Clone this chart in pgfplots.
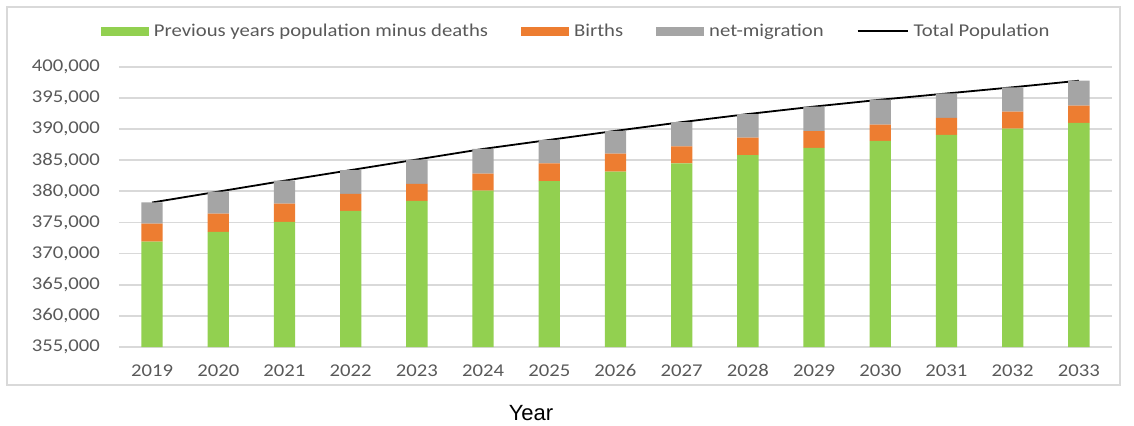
\documentclass[border=0pt]{standalone}
\usepackage{pgfplots}
\usepackage{pgfplotstable}
\pgfplotsset{compat=1.18}
\usepackage{fontspec}
\setmainfont{Carlito}[FakeStretch=1.15]
\newfontfamily\arialfont{Liberation Sans}
\definecolor{cgreen}{HTML}{92D050}
\definecolor{corange}{HTML}{ED7D31}
\definecolor{cgray}{HTML}{A5A5A5}
\definecolor{cgrid}{HTML}{D9D9D9}
\definecolor{ctext}{HTML}{595959}
\pgfplotstableread{
x year green births mig total
0 2019 371900 2900 3400 378200
1 2020 373500 2900 3550 379950
2 2021 375100 2900 3700 381700
3 2022 376850 2750 3800 383400
4 2023 378450 2750 3900 385100
5 2024 380100 2750 3950 386800
6 2025 381650 2850 3750 388250
7 2026 383150 2900 3650 389700
8 2027 384500 2700 3900 391100
9 2028 385800 2800 3800 392400
10 2029 386950 2700 3950 393600
11 2030 388100 2600 4000 394700
12 2031 389050 2750 3900 395700
13 2032 390050 2750 3900 396700
14 2033 391000 2750 4000 397750
}\datatable
\begin{document}
\begin{tikzpicture}
\begin{axis}[
  scale only axis,
  width=496.5pt, height=140.15pt,
  ybar stacked,
  bar width=10.65pt,
  xmin=-0.5, xmax=14.5,
  ymin=355000, ymax=400000,
  ytick={355000,360000,...,400000},
  yticklabels={{355,000},{360,000},{365,000},{370,000},{375,000},{380,000},{385,000},{390,000},{395,000},{400,000}},
  xtick={0,...,14},
  xticklabels={2019,2020,2021,2022,2023,2024,2025,2026,2027,2028,2029,2030,2031,2032,2033},
  scaled y ticks=false,
  tick label style={font=\fontsize{9}{10}\selectfont, text=ctext},
  yticklabel style={xshift=-6pt},
  xticklabel style={yshift=-4pt, text height=7pt, text depth=0pt},
  ymajorgrids, grid style={cgrid, line width=0.9pt},
  major tick length=0pt,
  axis line style={draw=none},
  clip=false,
  legend style={at={(axis description cs:0.461,1.127)}, anchor=center,
    legend columns=4, draw=none, fill=none,
    font=\fontsize{9}{10}\selectfont, text=ctext,
    /tikz/every odd column/.append style={column sep=1pt},
    /tikz/every even column/.append style={column sep=15pt},
    nodes={inner sep=1.5pt, text height=7pt, text depth=1.5pt}},
  legend image code/.code={\fill[#1] (0pt,-2.3pt) rectangle (24pt,2.3pt);},
]
\addplot[fill=cgreen, draw=none] table[x=x, y=green] {\datatable};
\addlegendentry{Previous years population minus deaths}
\addplot[fill=corange, draw=none] table[x=x, y=births] {\datatable};
\addlegendentry{Births}
\addplot[fill=cgray, draw=none] table[x=x, y=mig] {\datatable};
\addlegendentry{net-migration}
\addplot[black, line width=0.9pt, sharp plot, stack plots=false, mark=none,
  legend image code/.code={\draw[black, line width=0.9pt] (0pt,0pt) -- (25pt,0pt);}]
  table[x=x, y=total] {\datatable};
\addlegendentry{Total Population}
\draw[cgrid, line width=0.9pt] (axis description cs:0,0) -- (axis description cs:1,0);
\draw[cgrid, line width=0.9pt] (axis description cs:-0.1128,-0.1356) rectangle (axis description cs:1.008,1.213);
\node[font=\arialfont\fontsize{11}{12}\selectfont, anchor=center] at (axis description cs:0.415,-0.235) {Year};
\coordinate (bbl) at (axis description cs:-0.1198,-0.2783);
\coordinate (btr) at (axis description cs:1.0222,1.238);
\end{axis}
\pgfresetboundingbox
\path[use as bounding box] (bbl) rectangle (btr);
\end{tikzpicture}
\end{document}
